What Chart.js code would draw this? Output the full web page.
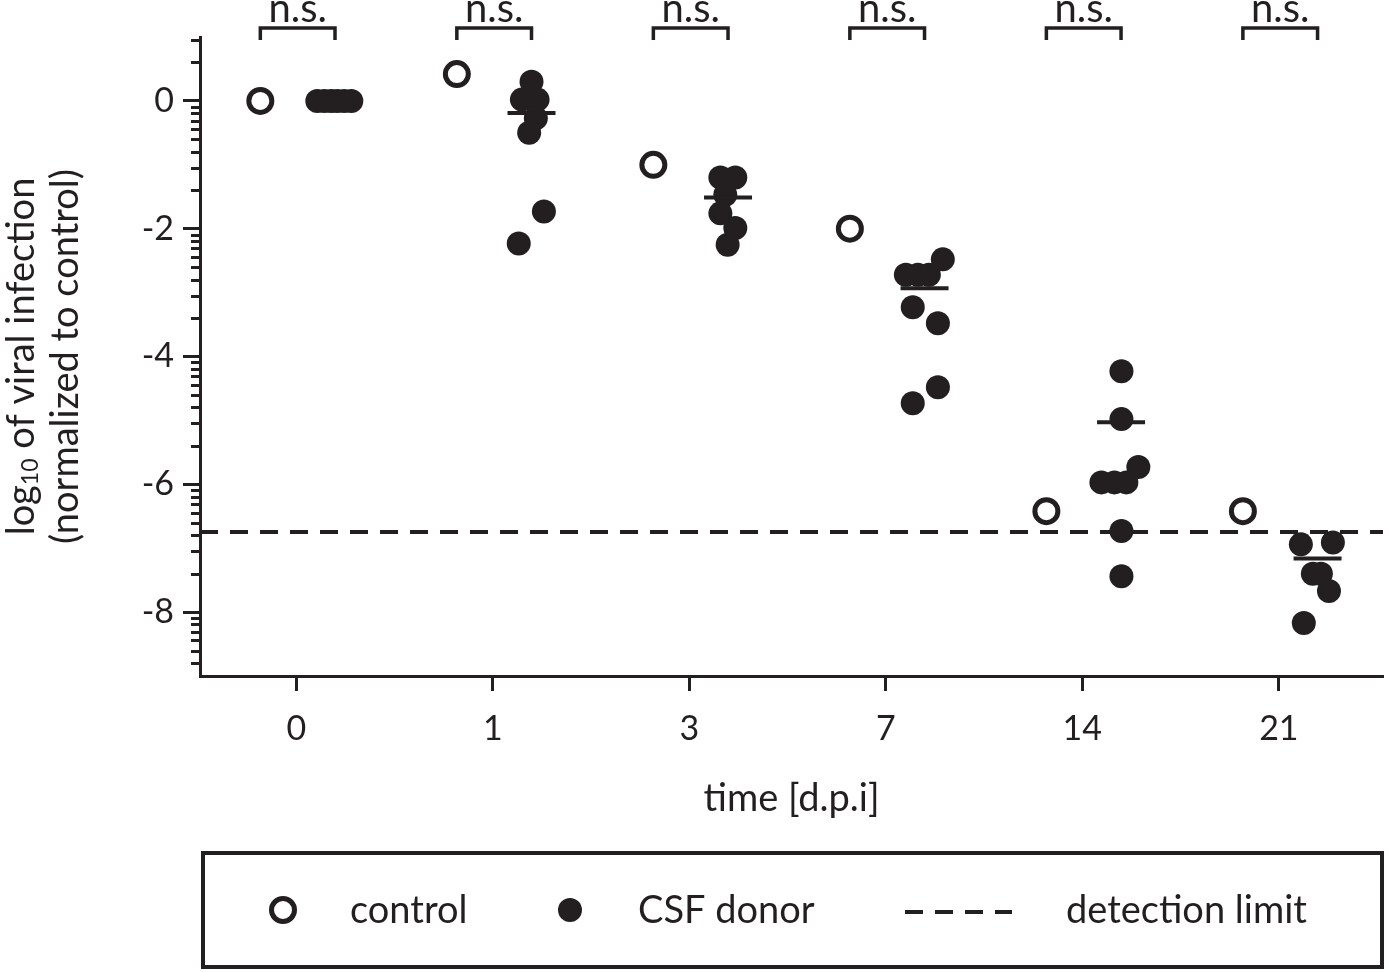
<!DOCTYPE html>
<html lang="en">
<head>
<meta charset="UTF-8">
<meta name="viewport" content="width=device-width, initial-scale=1.0">
<script src="https://cdn.jsdelivr.net/npm/chart.js@4.4.1/dist/chart.umd.min.js"></script>
<title>Viral infection after CSF transfer</title>
<style>
    html, body { margin: 0; padding: 0; background: #fff; overflow: hidden; }
    canvas { display: block; }
</style>
</head>
<body>
<canvas id="chart" width="1389" height="972"></canvas>

<script>
// time points (d.p.i) shown as categories
const days = ['0', '1', '3', '7', '14', '21'];
const significance = ['n.s.', 'n.s.', 'n.s.', 'n.s.', 'n.s.', 'n.s.'];

// log10 of viral infection, normalized to control
const controlValues = [0, 0.42, -1.0, -2.0, -6.42, -6.42];

const donorValues = [
    [0, 0, 0, 0, 0, 0],
    [0.30, 0.02, 0.02, -0.27, -0.50, -1.73, -2.23],
    [-1.20, -1.20, -1.47, -1.76, -1.99, -2.25],
    [-2.72, -2.72, -2.72, -2.48, -3.23, -3.48, -4.48, -4.73],
    [-4.23, -4.98, -5.73, -5.97, -5.97, -5.97, -6.73, -7.44],
    [-6.94, -6.91, -7.40, -7.40, -7.67, -8.17]
];
// horizontal spread of the donor dots inside each column (category units)
const donorSpread = [
    [0.107, 0.143, 0.178, 0.209, 0.244, 0.280],
    [0.197, 0.148, 0.228, 0.219, 0.185, 0.260, 0.132],
    [0.158, 0.234, 0.183, 0.158, 0.234, 0.195],
    [0.102, 0.163, 0.219, 0.290, 0.137, 0.265, 0.265, 0.137],
    [0.199, 0.199, 0.285, 0.097, 0.163, 0.224, 0.199, 0.199],
    [0.112, 0.275, 0.173, 0.214, 0.255, 0.127]
];
const donorMedians = [0, -0.19, -1.51, -2.93, -5.03, -7.16];

const detectionLimit = -6.745;

const ink = '#231f20';
const FONT = 'Lato';
const CONTROL_SHIFT = -0.183;
const DONOR_SHIFT = 0.197;
const X_MIN = -0.49, X_MAX = 5.53;

const controlPoints = controlValues.map((v, i) => ({ x: i + CONTROL_SHIFT, y: v }));
const donorPoints = [];
donorValues.forEach((list, i) => {
    list.forEach((v, j) => donorPoints.push({ x: i + donorSpread[i][j], y: v }));
});
const medianPoints = donorMedians.map((v, i) => ({ x: i + DONOR_SHIFT, y: v }));

// minor ticks, brackets, y title and the boxed legend
const extras = {
    id: 'extras',
    afterDraw(chart) {
        const { ctx, chartArea, scales: { x, y } } = chart;
        ctx.save();
        ctx.strokeStyle = ink;
        ctx.fillStyle = ink;

        // log-style minor ticks between the major ticks (one decade of 100 per 2 units)
        ctx.lineWidth = 3;
        for (const m of [2, 0, -2, -4, -6, -8]) {
            for (let k = 2; k <= 9; k++) {
                const v = m - 2 + 2 * Math.log10(k);
                if (v < y.min || v > y.max) continue;
                const py = Math.round(y.getPixelForValue(v)) + 0.5;
                ctx.beginPath();
                ctx.moveTo(chartArea.left - 9, py);
                ctx.lineTo(chartArea.left, py);
                ctx.stroke();
            }
        }

        // n.s. brackets above each time point
        ctx.lineWidth = 3.5;
        ctx.font = '40px ' + FONT;
        ctx.textAlign = 'center';
        ctx.textBaseline = 'alphabetic';
        const top = chartArea.top;
        significance.forEach((label, i) => {
            const x1 = x.getPixelForValue(i + CONTROL_SHIFT);
            const x2 = x.getPixelForValue(i + DONOR_SHIFT);
            ctx.beginPath();
            ctx.moveTo(x1, top + 3);
            ctx.lineTo(x1, top - 9);
            ctx.lineTo(x2, top - 9);
            ctx.lineTo(x2, top + 3);
            ctx.stroke();
            ctx.fillText(label, (x1 + x2) / 2, top - 15);
        });

        // y axis title with subscript
        const cy = (chartArea.top + chartArea.bottom) / 2;
        ctx.save();
        ctx.translate(0, cy);
        ctx.rotate(-Math.PI / 2);
        ctx.textBaseline = 'middle';
        ctx.textAlign = 'left';
        const big = '38px ' + FONT, small = '23px ' + FONT;
        const parts = [['log', big, 0], ['10', small, 9], [' of viral infection', big, 0]];
        let w = 0;
        parts.forEach(p => { ctx.font = p[1]; w += ctx.measureText(p[0]).width; });
        let tx = -w / 2;
        parts.forEach(p => {
            ctx.font = p[1];
            ctx.fillText(p[0], tx, 22 + p[2]);
            tx += ctx.measureText(p[0]).width;
        });
        ctx.font = big;
        ctx.textAlign = 'center';
        ctx.fillText('(normalized to control)', 0, 66);
        ctx.restore();

        // legend box
        const bx = chartArea.left + 3, by = 853, bw = chartArea.right - chartArea.left - 4, bh = 114;
        ctx.lineWidth = 4;
        ctx.strokeRect(bx, by, bw, bh);
        const ly = by + bh / 2;
        const sets = chart.data.datasets;
        const items = [
            { ds: sets[1], mark: bx + 80, text: bx + 147 },
            { ds: sets[2], mark: bx + 367, text: bx + 435 },
            { ds: sets[0], mark: bx + 702, text: bx + 863 }
        ];
        ctx.font = '38px ' + FONT;
        ctx.textAlign = 'left';
        ctx.textBaseline = 'middle';
        items.forEach(it => {
            const ds = it.ds;
            if (ds.showLine) {
                ctx.save();
                ctx.lineWidth = ds.borderWidth;
                ctx.setLineDash(ds.borderDash);
                ctx.beginPath();
                ctx.moveTo(it.mark, ly + 2);
                ctx.lineTo(it.mark + 107, ly + 2);
                ctx.stroke();
                ctx.restore();
            } else {
                ctx.beginPath();
                ctx.arc(it.mark, ly, ds.pointRadius, 0, Math.PI * 2);
                ctx.fillStyle = ds.pointBackgroundColor;
                ctx.fill();
                if (ds.pointBorderWidth) {
                    ctx.lineWidth = ds.pointBorderWidth;
                    ctx.strokeStyle = ds.pointBorderColor;
                    ctx.stroke();
                }
            }
            ctx.fillStyle = ink;
            ctx.fillText(ds.label, it.text, ly + 1);
        });
        ctx.restore();
    }
};

new Chart(document.getElementById('chart'), {
    type: 'scatter',
    data: {
        datasets: [
            {
                label: 'detection limit',
                data: [{ x: X_MIN, y: detectionLimit }, { x: X_MAX, y: detectionLimit }],
                showLine: true,
                borderColor: ink,
                borderWidth: 4,
                borderDash: [18, 12],
                pointRadius: 0,
                order: 4
            },
            {
                label: 'control',
                data: controlPoints,
                pointRadius: 11.5,
                pointBorderWidth: 5,
                pointBackgroundColor: '#ffffff',
                pointBorderColor: ink,
                order: 1
            },
            {
                label: 'CSF donor',
                data: donorPoints,
                pointRadius: 12,
                pointBorderWidth: 0,
                pointBackgroundColor: ink,
                pointBorderColor: ink,
                order: 3
            },
            {
                label: 'median',
                data: medianPoints,
                pointStyle: 'line',
                pointRadius: 24,
                pointBorderWidth: 4,
                pointBorderColor: ink,
                order: 2
            }
        ]
    },
    options: {
        responsive: false,
        animation: false,
        devicePixelRatio: 1,
        events: [],
        layout: {
            autoPadding: false,
            padding: { top: 37, right: 6, bottom: 142, left: 0 }
        },
        plugins: {
            legend: { display: false },
            tooltip: { enabled: false }
        },
        scales: {
            x: {
                type: 'linear',
                min: X_MIN,
                max: X_MAX,
                afterBuildTicks: scale => { scale.ticks = days.map((d, i) => ({ value: i })); },
                afterFit: scale => { scale.height = 154; },
                ticks: {
                    callback: value => days[Math.round(value)],
                    color: ink,
                    font: { family: FONT, size: 34 },
                    padding: 18,
                    maxRotation: 0
                },
                grid: {
                    drawOnChartArea: false,
                    drawTicks: true,
                    tickLength: 15,
                    tickWidth: 3,
                    tickColor: ink
                },
                border: { display: true, width: 3, color: ink },
                title: {
                    display: true,
                    text: 'time [d.p.i]',
                    color: ink,
                    font: { family: FONT, size: 38 },
                    padding: { top: 0, bottom: 8 }
                }
            },
            y: {
                min: -9,
                max: 1,
                afterBuildTicks: scale => { scale.ticks = [0, -2, -4, -6, -8].map(v => ({ value: v })); },
                afterFit: scale => { scale.width = 200; },
                ticks: {
                    callback: value => String(value),
                    color: ink,
                    font: { family: FONT, size: 34 },
                    padding: 9
                },
                grid: {
                    drawOnChartArea: false,
                    drawTicks: true,
                    tickLength: 17,
                    tickWidth: 3,
                    tickColor: ink
                },
                border: { display: true, width: 3, color: ink }
            }
        }
    },
    plugins: [extras]
});
</script>
</body>
</html>
